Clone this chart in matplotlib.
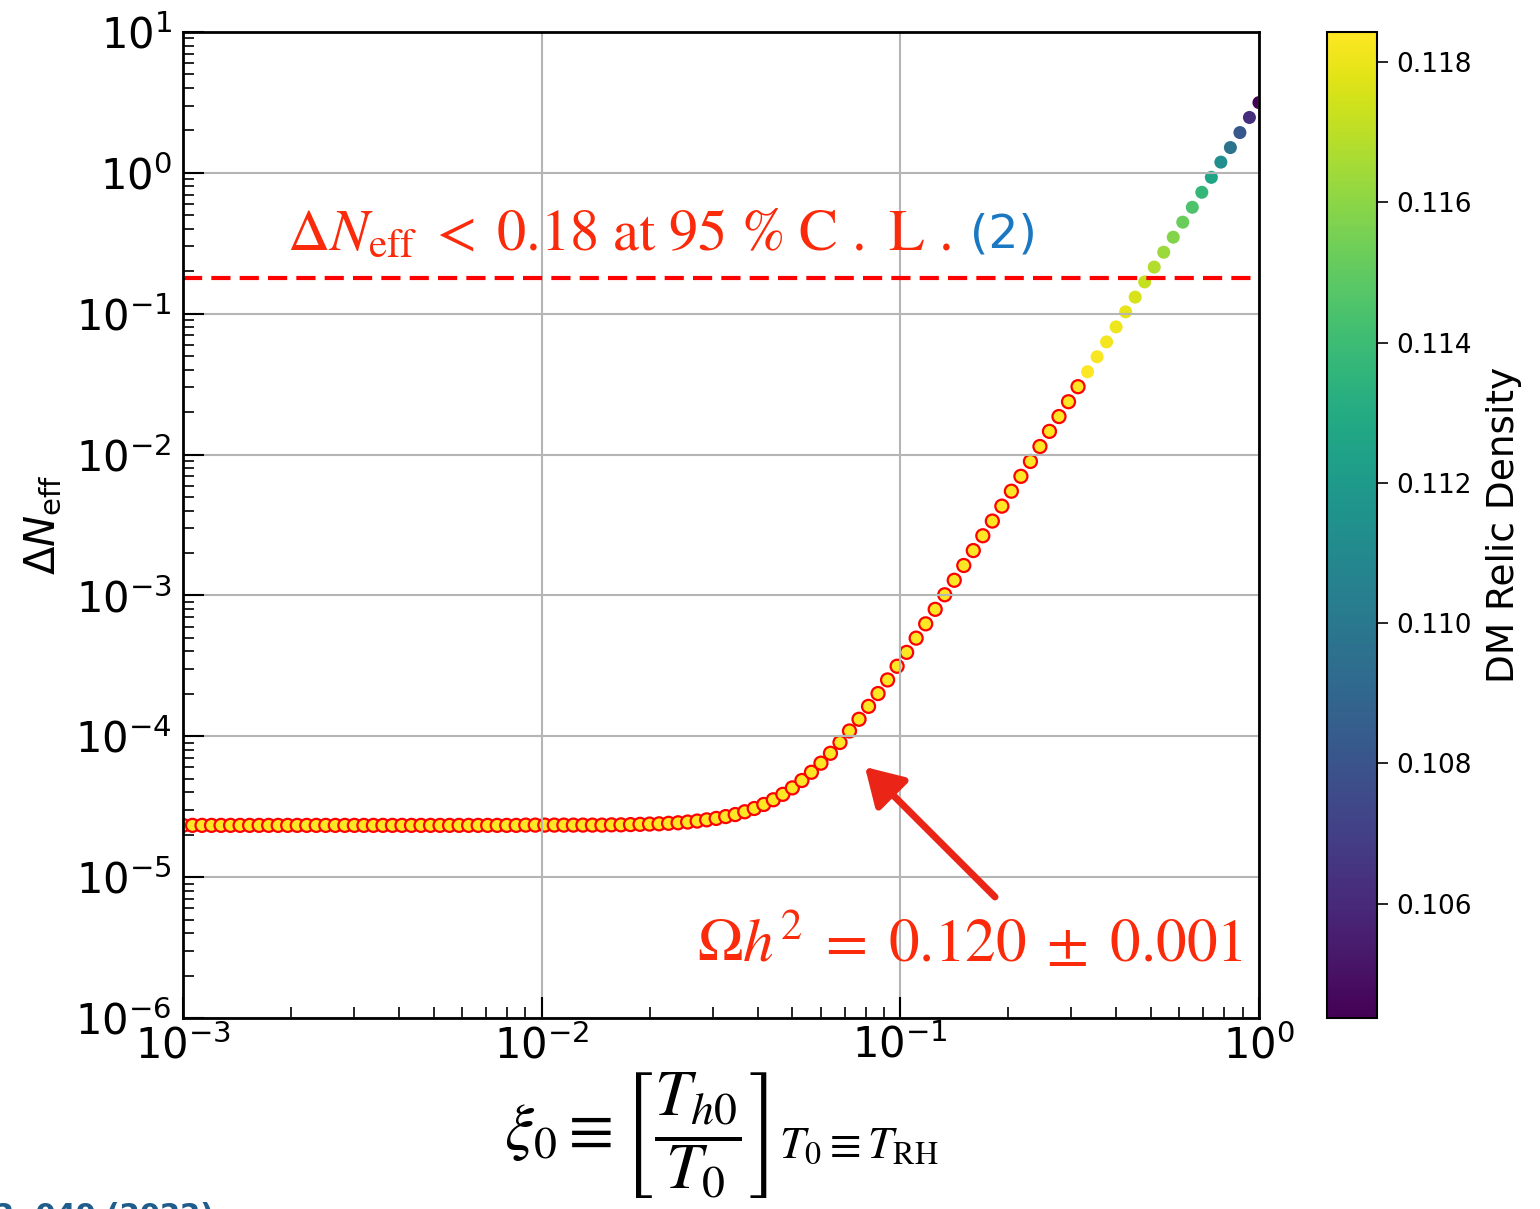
import numpy as np
import matplotlib
matplotlib.use("Agg")
import matplotlib.pyplot as plt
from matplotlib.colors import Normalize
from matplotlib.ticker import FormatStrFormatter

# --- data -------------------------------------------------------------
# scan over the initial hidden-to-visible temperature ratio
xi0 = np.logspace(-3, 0, 114)

# Delta N_eff for every scan point
delta_neff = np.array([
    2.33e-5, 2.33e-5, 2.33e-5, 2.33e-5, 2.33e-5, 2.33e-5, 2.33e-5, 2.33e-5, 2.33e-5, 2.33e-5,
    2.33e-5, 2.33e-5, 2.33e-5, 2.33e-5, 2.33e-5, 2.33e-5, 2.33e-5, 2.33e-5, 2.33e-5, 2.33e-5,
    2.33e-5, 2.33e-5, 2.33e-5, 2.33e-5, 2.33e-5, 2.33e-5, 2.33e-5, 2.33e-5, 2.33e-5, 2.33e-5,
    2.33e-5, 2.33e-5, 2.33e-5, 2.33e-5, 2.33e-5, 2.33e-5, 2.34e-5, 2.34e-5, 2.34e-5, 2.34e-5,
    2.34e-5, 2.34e-5, 2.34e-5, 2.34e-5, 2.34e-5, 2.35e-5, 2.35e-5, 2.36e-5, 2.37e-5, 2.38e-5,
    2.39e-5, 2.41e-5, 2.43e-5, 2.46e-5, 2.50e-5, 2.55e-5, 2.61e-5, 2.69e-5, 2.78e-5, 2.91e-5,
    3.07e-5, 3.28e-5, 3.54e-5, 3.87e-5, 4.30e-5, 4.85e-5, 5.55e-5, 6.44e-5, 7.57e-5, 9.03e-5,
    1.09e-4, 1.32e-4, 1.63e-4, 2.01e-4, 2.51e-4, 3.14e-4, 3.94e-4, 4.97e-4, 6.28e-4, 7.96e-4,
    1.01e-3, 1.28e-3, 1.63e-3, 2.08e-3, 2.65e-3, 3.37e-3, 4.30e-3, 5.49e-3, 7.00e-3, 8.93e-3,
    1.14e-2, 1.46e-2, 1.86e-2, 2.37e-2, 3.03e-2, 3.87e-2, 4.94e-2, 6.30e-2, 8.05e-2, 0.103,
    0.131, 0.168, 0.214, 0.273, 0.349, 0.446, 0.569, 0.727, 0.928, 1.19,
    1.51, 1.93, 2.47, 3.15,
])

# DM relic density Omega h^2 for every scan point
relic = np.array([
    0.120, 0.120, 0.120, 0.120, 0.120, 0.120, 0.120, 0.120, 0.120, 0.120,
    0.120, 0.120, 0.120, 0.120, 0.120, 0.120, 0.120, 0.120, 0.120, 0.120,
    0.120, 0.120, 0.120, 0.120, 0.120, 0.120, 0.120, 0.120, 0.120, 0.120,
    0.120, 0.120, 0.120, 0.120, 0.120, 0.120, 0.120, 0.120, 0.120, 0.120,
    0.120, 0.120, 0.120, 0.120, 0.120, 0.120, 0.120, 0.120, 0.120, 0.120,
    0.120, 0.120, 0.120, 0.120, 0.120, 0.120, 0.120, 0.120, 0.120, 0.120,
    0.120, 0.120, 0.120, 0.120, 0.120, 0.120, 0.120, 0.120, 0.120, 0.120,
    0.120, 0.120, 0.120, 0.120, 0.120, 0.120, 0.120, 0.120, 0.120, 0.120,
    0.120, 0.120, 0.120, 0.120, 0.120, 0.120, 0.120, 0.120, 0.120, 0.120,
    0.120, 0.120, 0.120, 0.120, 0.120,
    0.1184, 0.1183, 0.1182, 0.1181, 0.1179, 0.1176, 0.1172, 0.1168, 0.1163, 0.1158,
    0.1152, 0.1145, 0.1137, 0.1126, 0.1113, 0.1097, 0.1082, 0.1062, 0.1044,
])

planck_omega = 0.120
planck_sigma = 0.001
neff_bound = 0.18

cbar_min, cbar_max = 0.10437, 0.11843
cbar_ticks = [0.106, 0.108, 0.110, 0.112, 0.114, 0.116, 0.118]

# --- figure -----------------------------------------------------------
fig = plt.figure(figsize=(15.4, 12.09), dpi=100)
ax = fig.add_axes([0.1188, 0.158, 0.6987, 0.8156])
cax = fig.add_axes([0.8617, 0.158, 0.0325, 0.8156])

ax.set_xscale("log")
ax.set_yscale("log")
ax.set_xlim(1e-3, 1.0)
ax.set_ylim(1e-6, 10.0)

norm = Normalize(vmin=cbar_min, vmax=cbar_max)
sc = ax.scatter(xi0, delta_neff, c=relic, cmap="viridis", norm=norm,
                s=88, linewidths=0, zorder=1)

# points inside the Planck relic-density window get a red rim
in_window = np.abs(relic - planck_omega) <= planck_sigma + 1e-12
ax.scatter(xi0[in_window], delta_neff[in_window], c=relic[in_window],
           cmap="viridis", norm=norm, s=88, edgecolors="red",
           linewidths=1.6, zorder=1)

ax.axhline(neff_bound, color="red", lw=3, dashes=(4.6, 2.2), zorder=2)

ax.grid(True, which="major", color="#b5b5b5", lw=1.5)
ax.tick_params(which="both", direction="in", top=False, right=False)
ax.tick_params(which="major", length=15, width=1.5, labelsize=30)
ax.tick_params(which="minor", length=8, width=1.2)
ax.tick_params(axis="y", which="major", pad=8)
ax.tick_params(axis="x", which="major", pad=5)
for sp in ax.spines.values():
    sp.set_linewidth(2)

ax.set_ylabel(r"$\Delta N_{\rm eff}$", fontsize=30, labelpad=8)
ax.set_xlabel(r"$\xi_0 \equiv \left[\dfrac{T_{h0}}{T_0}\right]_{T_0\equiv T_{\rm RH}}$",
              fontsize=47, math_fontfamily="stix", labelpad=2)

text_red = "#fa2a0a"
ax.text(0.0967, 0.779,
        r"$\Delta N_{\rm eff}\; <\; 0.18\ {\rm at}\ 95\ \%\ {\rm C\ .\ L\ .}$",
        transform=ax.transAxes, fontsize=42, color=text_red,
        math_fontfamily="stix", va="baseline", ha="left")
ax.text(0.731, 0.781, "(2)", transform=ax.transAxes, fontsize=34,
        color="#1a78c2", va="baseline", ha="left")

ax.text(0.478, 0.0568, r"$\Omega h^2 \;=\; 0.120 \;\pm\; 0.001$",
        transform=ax.transAxes, fontsize=44, color=text_red,
        math_fontfamily="stix", va="baseline", ha="left")

ax.annotate("", xy=(0.0797, 6.05e-5), xytext=(0.1837, 7.23e-6),
            arrowprops=dict(arrowstyle="-|>,head_length=0.75,head_width=0.45",
                            mutation_scale=30, lw=5, color="#ea2517",
                            shrinkA=0, shrinkB=0, capstyle="round"))

cb = fig.colorbar(sc, cax=cax, ticks=cbar_ticks)
cb.ax.yaxis.set_major_formatter(FormatStrFormatter("%.3f"))
cb.ax.tick_params(labelsize=19, length=8, width=1.2, pad=6)
cb.ax.minorticks_off()
cb.outline.set_linewidth(1.5)
cb.set_label("DM Relic Density", fontsize=27, labelpad=10)

fig.text(-0.004, 0.0058, "2, 049 (2022)", color="#1f5d8c", fontsize=21,
         fontweight="bold", va="top", ha="left")

fig.savefig("out.png", dpi=100)
